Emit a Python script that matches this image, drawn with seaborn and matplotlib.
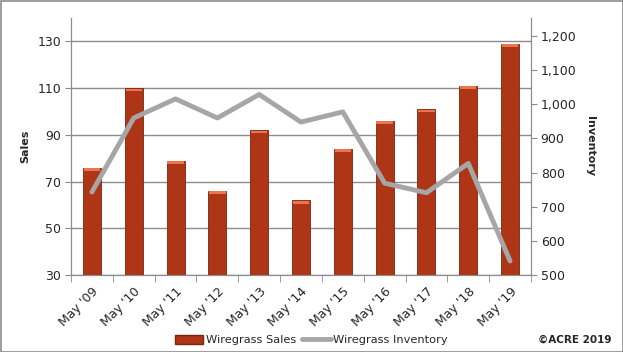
import numpy as np
import matplotlib
matplotlib.use("Agg")
import matplotlib.pyplot as plt
import seaborn as sns
import pandas as pd
from matplotlib.patches import Patch
from matplotlib.lines import Line2D

months = ["May '09", "May '10", "May '11", "May '12", "May '13", "May '14",
          "May '15", "May '16", "May '17", "May '18", "May '19"]
sales = [76, 110, 79, 66, 92, 62, 84, 96, 101, 111, 129]
inventory = [743, 960, 1016, 960, 1029, 948, 978, 769, 741, 827, 541]

sns.set_style("white")
plt.rcParams['font.family'] = ['DejaVu Sans']

df = pd.DataFrame({"month": months, "sales": sales, "inventory": inventory})

fig = plt.figure(figsize=(6.23, 3.52), dpi=100)
ax = fig.add_axes([71/623, 1-275/352, 460/623, 257/352])

bar_col = "#AE3516"
sns.barplot(data=df, x="month", y="sales", color=bar_col, width=0.43,
            saturation=1, ax=ax, zorder=3, edgecolor="#7A250E", linewidth=0.6)
# light top caps on bars
for p in ax.patches:
    ax.add_patch(plt.Rectangle((p.get_x() + 0.02, p.get_height() - 1.4), p.get_width() - 0.04, 1.2,
                               color="#EC7550", zorder=4, lw=0))

ax.set_ylim(30, 140)
ax.set_yticks(range(30, 131, 20))
ax.grid(axis="y", color="#8C8C8C", lw=1, zorder=0)
ax.set_xlim(-0.5, len(months) - 0.5)
ax.set_xlabel("")
ax.set_ylabel("Sales", fontsize=8, fontweight="bold", labelpad=5)
ax.tick_params(axis="y", labelsize=9, length=4, color="#8C8C8C", left=True, pad=3)
ax.set_xticks(np.arange(len(months)))
ax.set_xticklabels(months, rotation=45, ha="right", rotation_mode="anchor", fontsize=9)
ax.tick_params(axis="x", length=0, pad=7)
ax.set_xticks(np.arange(-0.5, len(months), 1), minor=True)
ax.tick_params(axis="x", which="minor", length=5, color="#8C8C8C", bottom=True)
ax.spines["top"].set_visible(False)
for s in ["left", "right", "bottom"]:
    ax.spines[s].set_color("#8C8C8C")

ax2 = ax.twinx()
sns.lineplot(x=np.arange(len(months)), y=inventory, ax=ax2, color="#A6A6A6",
             lw=3.5, zorder=5)
ax2.set_ylim(500, 1253)
ax2.set_yticks(range(500, 1201, 100))
ax2.set_yticklabels([f"{v:,}" for v in range(500, 1201, 100)])
ax2.tick_params(axis="y", labelsize=9, length=4, color="#8C8C8C", right=True, pad=3)
ax2.set_ylabel("Inventory", fontsize=8, fontweight="bold", rotation=-90, labelpad=13)
ax2.spines["top"].set_visible(False)
for s in ["left", "right", "bottom"]:
    ax2.spines[s].set_color("#8C8C8C")

handles = [Patch(facecolor=bar_col, edgecolor="#7A250E"),
           Line2D([0], [0], color="#A6A6A6", lw=3.5)]
fig.legend(handles, ["Wiregrass Sales", "Wiregrass Inventory"], loc="center",
           bbox_to_anchor=(0.5, 1-340/352), ncol=2, frameon=False, fontsize=8.2,
           handlelength=2.5, handleheight=0.9, columnspacing=0.5, handletextpad=0.25)

fig.text(1-12/623, 1-340/352, "©ACRE 2019", ha="right", va="center",
         fontsize=7.5, fontweight="bold")

fig.patches.append(plt.Rectangle((0.5/623, 0.5/352), 1-1/623, 1-1/352,
                                 transform=fig.transFigure, fill=False,
                                 edgecolor="#8C8C8C", lw=1.2))

fig.savefig("out.png", dpi=100)
